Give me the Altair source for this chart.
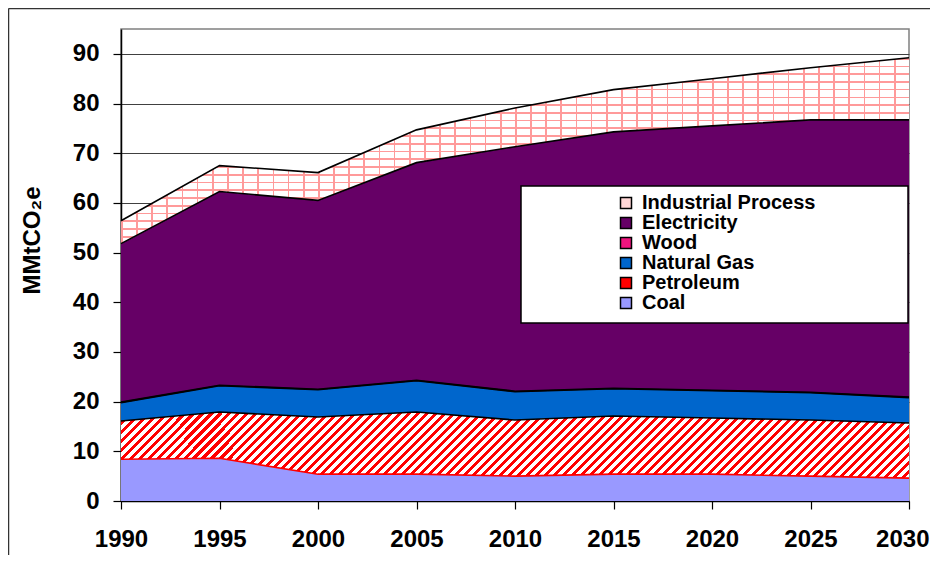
import altair as alt
import pandas as pd

# ---------------- data ----------------
years = [1990, 1995, 2000, 2005, 2010, 2015, 2020, 2025, 2030]
coal = [8.4, 8.6, 5.4, 5.4, 5.0, 5.4, 5.4, 5.0, 4.6]
petroleum = [7.7, 9.3, 11.5, 12.5, 11.3, 11.7, 11.3, 11.3, 11.1]
natural_gas = [3.7, 5.3, 5.5, 6.3, 5.7, 5.5, 5.5, 5.5, 5.1]
wood = [0.1, 0.1, 0.1, 0.1, 0.1, 0.1, 0.1, 0.1, 0.1]
electricity = [31.9, 39.0, 38.0, 43.8, 49.2, 51.6, 53.2, 54.8, 55.8]
industrial = [4.6, 5.2, 5.6, 6.6, 7.8, 8.5, 9.5, 10.5, 12.5]

legend_order = ["Industrial Process", "Electricity", "Wood", "Natural Gas", "Petroleum", "Coal"]
legend_colors = ["#ffd6d6", "#660066", "#f0147f", "#0066cc", "#ff0000", "#9999ff"]
stack_order = ["Coal", "Petroleum", "Natural Gas", "Wood", "Electricity", "Industrial Process"]
y_ticks = [0, 10, 20, 30, 40, 50, 60, 70, 80, 90]

values_by = {
    "Coal": coal,
    "Petroleum": petroleum,
    "Natural Gas": natural_gas,
    "Wood": wood,
    "Electricity": electricity,
    "Industrial Process": industrial,
}

rows = []
base = [0.0] * len(years)
for name in stack_order:
    vals = values_by[name]
    for i, yr in enumerate(years):
        rows.append({"year": yr, "series": name, "value": vals[i],
                     "y0": round(base[i], 3), "y1": round(base[i] + vals[i], 3)})
    base = [b + v for b, v in zip(base, vals)]
df = pd.DataFrame(rows)

# ---------------- pattern fills (gradients used as stripes) ----------------
def stripes(n, frac, c_on, c_off):
    stops = []
    for k in range(n):
        a = k / n
        b = (k + frac) / n
        c = (k + 1) / n
        stops += [alt.GradientStop(color=c_on, offset=round(a, 5)),
                  alt.GradientStop(color=c_on, offset=round(b, 5)),
                  alt.GradientStop(color=c_off, offset=round(b, 5)),
                  alt.GradientStop(color=c_off, offset=round(c, 5))]
    return stops

# petroleum diagonal hatch
r = 66.0 / 788.0
s = (1 + r) / (1 + r * r)
hatch = alt.Gradient(gradient="linear", stops=stripes(95, 0.45, "#ff0000", "#ffffff"),
                     x1=0, y1=0, x2=round(s, 4), y2=round(s * r, 4))
# industrial bricks: horizontal mortar + vertical mortar
brick_h = alt.Gradient(gradient="linear", stops=stripes(24, 0.22, "#ff9a9a", "#ffffff"),
                       x1=0, y1=0, x2=0, y2=1)
brick_v = alt.Gradient(gradient="linear", stops=stripes(52, 0.11, "#ff9a9a", "rgba(255,255,255,0)"),
                       x1=0, y1=0, x2=1, y2=0)

# ---------------- encodings ----------------
last_year_test = "datum.value === 2030"
x_enc = alt.X("year:Q",
              scale=alt.Scale(domain=[1990, 2030], nice=False, zero=False),
              axis=alt.Axis(values=years, format="d", title=None, grid=False, labelPadding=18,
                            labelFlush=False,
                            labelAlign={"condition": {"test": last_year_test, "value": "right"},
                                        "value": "center"},
                            labelOffset={"condition": {"test": last_year_test, "value": 20},
                                         "value": 0}))
y_enc = alt.Y("y1:Q",
              scale=alt.Scale(domain=[0, 95], nice=False),
              axis=alt.Axis(values=y_ticks, title="MMtCO₂e", labelPadding=14,
                            titleX=-89, titleY=211, titleAngle=270,
                            titleAlign="center", titleBaseline="middle"))
y2_enc = alt.Y2("y0:Q")

areas = alt.Chart(df).mark_area(opacity=1).encode(
    x=x_enc, y=y_enc, y2=y2_enc,
    color=alt.Color("series:N",
                    scale=alt.Scale(domain=legend_order, range=legend_colors),
                    legend=alt.Legend(orient="none", legendX=495, legendY=164, title=None,
                                      symbolType="square", symbolSize=121,
                                      symbolStrokeColor="black", symbolStrokeWidth=1.5,
                                      labelFontSize=20, labelFont="Liberation Sans",
                                      labelFontWeight="bold", labelColor="black",
                                      labelOffset=6, labelLimit=400, rowPadding=0,
                                      padding=0, symbolOpacity=1)),
    order=alt.Order("series:N"),
)

pet = alt.Chart(df).transform_filter(alt.datum.series == "Petroleum").mark_area(
    color=hatch, opacity=1).encode(x=x_enc, y=y_enc, y2=y2_enc)
ind_h = alt.Chart(df).transform_filter(alt.datum.series == "Industrial Process").mark_area(
    color=brick_h, opacity=1).encode(x=x_enc, y=y_enc, y2=y2_enc)
ind_v = alt.Chart(df).transform_filter(alt.datum.series == "Industrial Process").mark_area(
    color=brick_v, opacity=1).encode(x=x_enc, y=y_enc, y2=y2_enc)

edges = alt.Chart(df).mark_line(strokeWidth=1.6).encode(
    x=x_enc, y=y_enc, detail="series:N",
    color=alt.condition("datum.series === 'Coal'", alt.value("#ff0000"), alt.value("black")),
)

one = pd.DataFrame({"a": [1]})
legend_box = alt.Chart(one).mark_rect(fill="white", stroke="black", strokeWidth=1.5).encode(
    x=alt.value(400), x2=alt.value(787), y=alt.value(157), y2=alt.value(294))
frame_left = alt.Chart(one).mark_rule(color="#333333", strokeWidth=1.5).encode(
    x=alt.value(-112.5), y=alt.value(-20.5), y2=alt.value(560))
frame_top = alt.Chart(one).mark_rule(color="#333333", strokeWidth=1.5).encode(
    x=alt.value(-112.5), x2=alt.value(830), y=alt.value(-20.5))

chart = alt.layer(areas, pet, ind_h, ind_v, edges, legend_box, frame_left, frame_top).properties(
    width=788, height=472,
    padding={"left": 113, "top": 21, "right": 21, "bottom": 54},
    autosize=alt.AutoSizeParams(type="none"),
).configure_view(
    stroke="#808080", strokeWidth=1.5
).configure_axis(
    labelFont="Liberation Sans", labelFontSize=24, labelFontWeight="bold", labelColor="black",
    titleFont="Liberation Sans", titleFontSize=24, titleFontWeight="bold", titleColor="black",
    tickColor="black", tickSize=8, tickWidth=1.2,
    domainColor="black", domainWidth=1.5,
    gridColor="#404040", gridWidth=1,
)

chart.save("out.html", embed_options={"renderer": "svg", "actions": False})
